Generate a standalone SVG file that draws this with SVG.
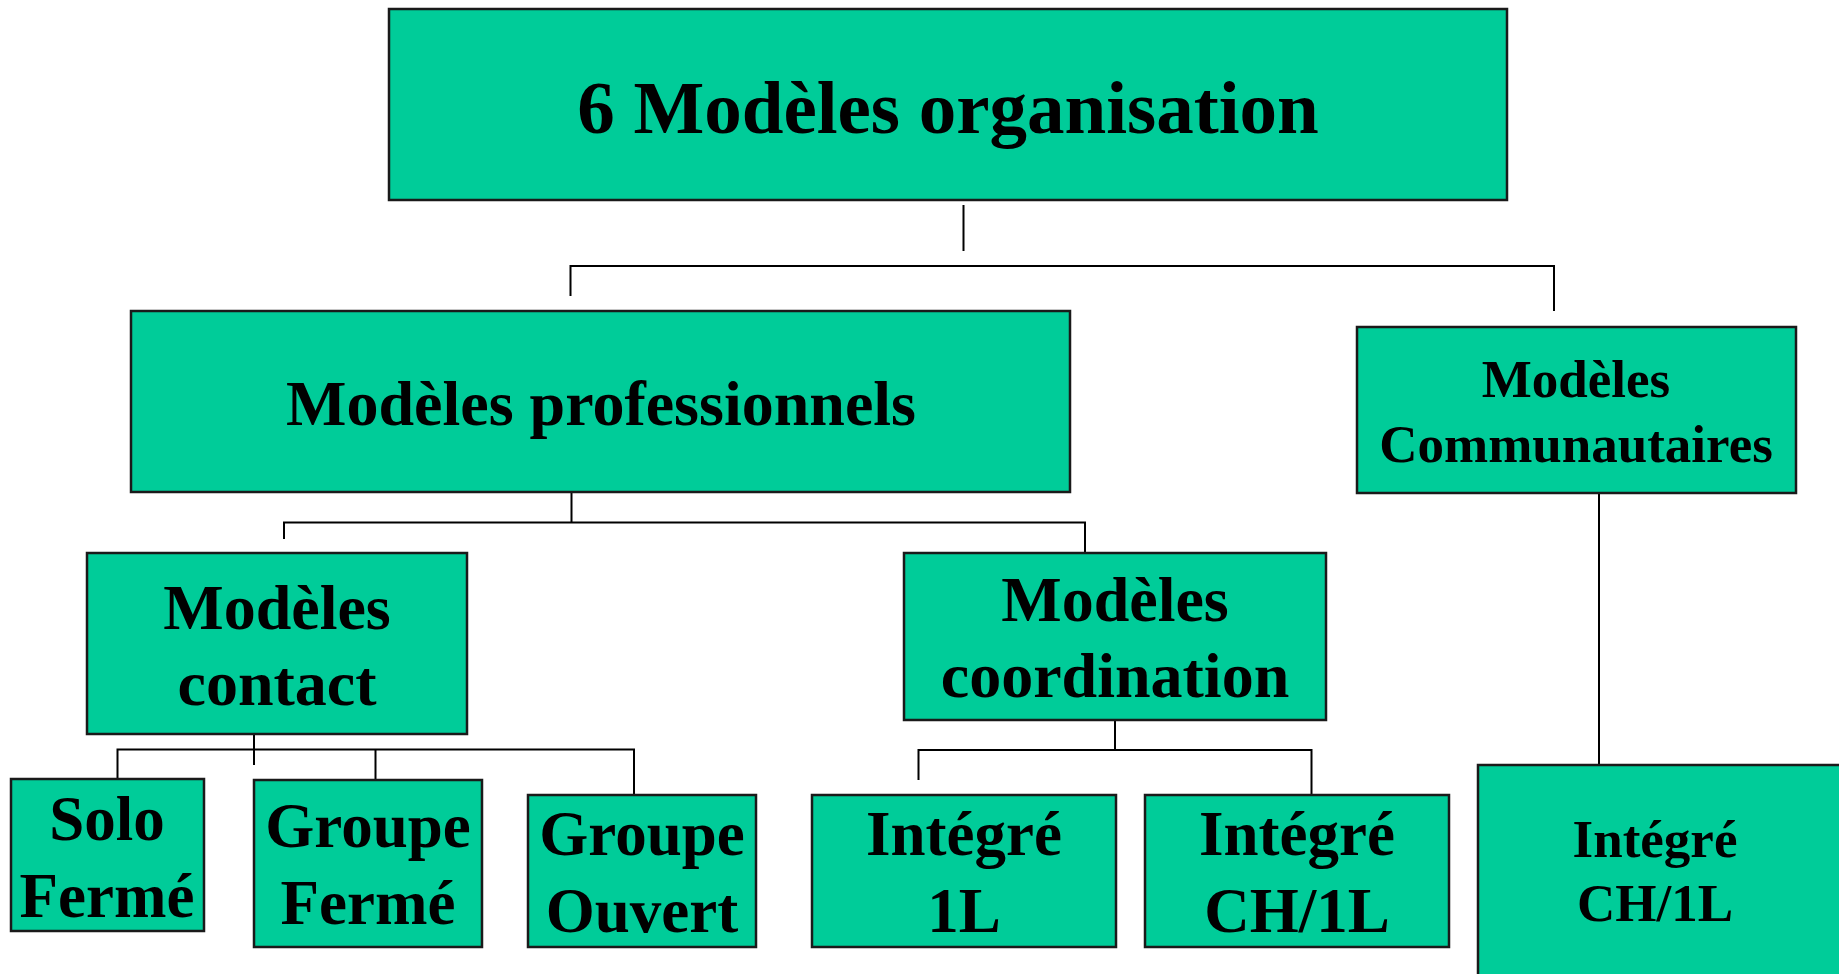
<svg xmlns="http://www.w3.org/2000/svg" width="1839" height="974" viewBox="0 0 1839 974">
  <style>
    .box { fill: #00CC99; stroke: #1a1a1a; stroke-width: 2.5; }
    .lbl { font-family: "Liberation Serif", "Times New Roman", serif; font-weight: bold; fill: #000; text-anchor: middle; }
    .conn { fill: none; stroke: #000; stroke-width: 2; }
  </style>
  <rect width="1839" height="974" fill="#ffffff"/>

  <!-- connectors -->
  <g id="connectors" class="conn">
    <path d="M963.5 205 V251"/>
    <path d="M570.5 296 V266 H1554 V311"/>
    <path d="M571.5 492 V522.5"/>
    <path d="M284 539 V522.5 H1085 V553"/>
    <path d="M1599 493 V765"/>
    <path d="M254 734 V765"/>
    <path d="M117.5 779 V749.5 H634 V795"/>
    <path d="M375.5 749.5 V780"/>
    <path d="M1115 720 V750"/>
    <path d="M918.5 780 V750 H1311.5 V795"/>
  </g>

  <g id="node-organisation">
    <rect class="box" x="389" y="9" width="1118" height="191"/>
    <text class="lbl" x="948" y="133" font-size="75">6 Modèles organisation</text>
  </g>

  <g id="node-professionnels">
    <rect class="box" x="131" y="311" width="939" height="181"/>
    <text class="lbl" x="601" y="425" font-size="64">Modèles professionnels</text>
  </g>

  <g id="node-communautaires">
    <rect class="box" x="1357" y="327" width="439" height="166"/>
    <text class="lbl" x="1576" y="397" font-size="53">Modèles</text>
    <text class="lbl" x="1576" y="462" font-size="53">Communautaires</text>
  </g>

  <g id="node-contact">
    <rect class="box" x="87" y="553" width="380" height="181"/>
    <text class="lbl" x="277" y="629" font-size="64">Modèles</text>
    <text class="lbl" x="277" y="705" font-size="64">contact</text>
  </g>

  <g id="node-coordination">
    <rect class="box" x="904" y="553" width="422" height="167"/>
    <text class="lbl" x="1115" y="621" font-size="64">Modèles</text>
    <text class="lbl" x="1115" y="697" font-size="64">coordination</text>
  </g>

  <g id="node-solo-ferme">
    <rect class="box" x="11" y="779" width="193" height="152"/>
    <text class="lbl" x="107" y="840" font-size="63">Solo</text>
    <text class="lbl" x="107" y="917" font-size="63">Fermé</text>
  </g>

  <g id="node-groupe-ferme">
    <rect class="box" x="254" y="780" width="228" height="167"/>
    <text class="lbl" x="368" y="847" font-size="63">Groupe</text>
    <text class="lbl" x="368" y="924" font-size="63">Fermé</text>
  </g>

  <g id="node-groupe-ouvert">
    <rect class="box" x="528" y="795" width="228" height="152"/>
    <text class="lbl" x="642" y="855" font-size="63">Groupe</text>
    <text class="lbl" x="642" y="932" font-size="63">Ouvert</text>
  </g>

  <g id="node-integre-1l">
    <rect class="box" x="812" y="795" width="304" height="152"/>
    <text class="lbl" x="964" y="855" font-size="63">Intégré</text>
    <text class="lbl" x="964" y="932" font-size="63">1L</text>
  </g>

  <g id="node-integre-ch1l">
    <rect class="box" x="1145" y="795" width="304" height="152"/>
    <text class="lbl" x="1297" y="855" font-size="63">Intégré</text>
    <text class="lbl" x="1297" y="932" font-size="63">CH/1L</text>
  </g>

  <g id="node-integre-ch1l-communautaire">
    <rect class="box" x="1478" y="765" width="380" height="230"/>
    <text class="lbl" x="1655" y="857" font-size="53">Intégré</text>
    <text class="lbl" x="1655" y="921" font-size="53">CH/1L</text>
  </g>
</svg>
